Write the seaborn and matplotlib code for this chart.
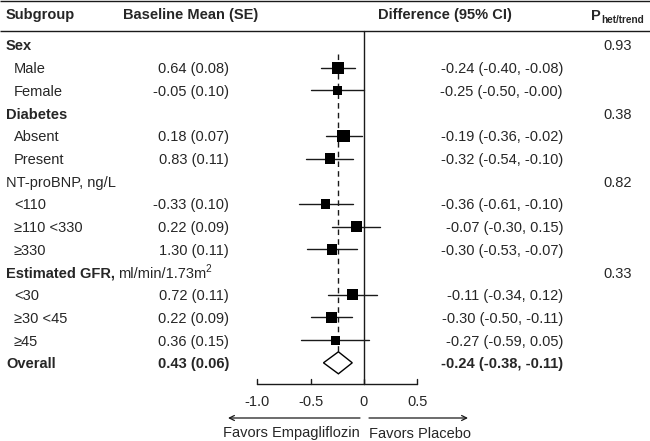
import numpy as np
import pandas as pd
import matplotlib
matplotlib.use("Agg")
import matplotlib.pyplot as plt
import seaborn as sns
from matplotlib.patches import Polygon

# ---------------- data ----------------
row_labels = ["Sex", "Male", "Female", "Diabetes", "Absent", "Present",
              "NT-proBNP, ng/L", "<110", "\u2265110 <330", "\u2265330",
              "Estimated GFR,", "<30", "\u226530 <45", "\u226545", "Overall"]
row_kind = ["group", "item", "item", "group", "item", "item",
            "plain", "item", "item", "item",
            "gfr", "item", "item", "item", "overall"]
baseline_mean = [None, 0.64, -0.05, None, 0.18, 0.83, None, -0.33, 0.22, 1.30,
                 None, 0.72, 0.22, 0.36, 0.43]
baseline_se = [None, 0.08, 0.10, None, 0.07, 0.11, None, 0.10, 0.09, 0.11,
               None, 0.11, 0.09, 0.15, 0.06]
diff = [None, -0.24, -0.25, None, -0.19, -0.32, None, -0.36, -0.07, -0.30,
        None, -0.11, -0.30, -0.27, -0.24]
ci_lo = [None, -0.40, -0.50, None, -0.36, -0.54, None, -0.61, -0.30, -0.53,
         None, -0.34, -0.50, -0.59, -0.38]
ci_hi = [None, -0.08, -0.00, None, -0.02, -0.10, None, -0.10, 0.15, -0.07,
         None, 0.12, -0.11, 0.05, -0.11]
p_het = ["0.93", None, None, "0.38", None, None, "0.82", None, None, None,
         "0.33", None, None, None, None]
# relative weight (square side) per subgroup
weight = [None, 12, 9.5, None, 12.5, 10.5, None, 9.5, 11, 10.5,
          None, 10.5, 11, 9, None]
tick_values = [-1.0, -0.5, 0.0, 0.5]
tick_labels = ["-1.0", "-0.5", "0", "0.5"]
favors_left = "Favors Empagliflozin"
favors_right = "Favors Placebo"

# ---------------- style ----------------
sns.set_theme(style="white")
plt.rcParams['font.family'] = ['Liberation Sans', 'DejaVu Sans']
FS = 10.5
W, H = 650, 441
fig = plt.figure(figsize=(W / 100, H / 100), dpi=100)
ax = fig.add_axes([0, 0, 1, 1])
ax.set_axis_off()

PPU = 160 / 1.5          # pixels per effect unit
ZERO_PX = 364
ax.set_xlim(-ZERO_PX / PPU, (W - ZERO_PX) / PPU)
ax.set_ylim(H, 0)


def px(p):
    return (p - ZERO_PX) / PPU


ROW0, STEP = 45.0, 22.7
ys = [ROW0 + i * STEP for i in range(len(row_labels))]
TXT_DY = 1.5
LC = "#1a1a1a"

# header
ax.plot([px(0), px(W)], [1, 1], color=LC, lw=1.0, solid_capstyle="butt")
ax.plot([px(0), px(W)], [31, 31], color=LC, lw=1.0, solid_capstyle="butt")
hy = 15.5
ax.text(px(6), hy, "Subgroup", fontsize=FS, fontweight="bold", va="center", ha="left")
ax.text(px(191), hy, "Baseline Mean (SE)", fontsize=FS, fontweight="bold", va="center", ha="center")
ax.text(px(445), hy, "Difference (95% CI)", fontsize=FS, fontweight="bold", va="center", ha="center")
ax.text(px(591), hy, "P", fontsize=FS, fontweight="bold", va="center", ha="left")
ax.text(px(601.5), hy + 4.5, "het/trend", fontsize=7.2, fontweight="bold", va="center", ha="left")

renderer = fig.canvas.get_renderer()

# rows text
for i, lab in enumerate(row_labels):
    y = ys[i] + TXT_DY
    kind = row_kind[i]
    if kind == "item":
        ax.text(px(14), y, lab, fontsize=FS, va="center", ha="left")
    elif kind == "plain":
        ax.text(px(6), y, lab, fontsize=FS, va="center", ha="left")
    elif kind in ("group", "overall"):
        ax.text(px(6), y, lab, fontsize=FS, fontweight="bold", va="center", ha="left")
    elif kind == "gfr":
        t = ax.text(px(6), y, lab, fontsize=FS, fontweight="bold", va="center", ha="left")
        bb = t.get_window_extent(renderer)
        t2 = ax.text(px(bb.x1 + 3.5), y, "ml/min/1.73m", fontsize=FS, va="center", ha="left")
        bb2 = t2.get_window_extent(renderer)
        ax.text(px(bb2.x1 - 1.0), y - 4.5, "2", fontsize=7.2, va="center", ha="left")
    wt = "bold" if kind == "overall" else "normal"
    if baseline_mean[i] is not None:
        ax.text(px(229), y, f"{baseline_mean[i]:.2f} ({baseline_se[i]:.2f})",
                fontsize=FS, fontweight=wt, va="center", ha="right")
    if diff[i] is not None:
        ax.text(px(563), y, f"{diff[i]:.2f} ({ci_lo[i]:.2f}, {ci_hi[i]:.2f})",
                fontsize=FS, fontweight=wt, va="center", ha="right")
    if p_het[i] is not None:
        ax.text(px(632), y, p_het[i], fontsize=FS, va="center", ha="right")

# reference lines
overall_idx = row_kind.index("overall")
est = diff[overall_idx]
d_half = 11
ax.plot([0, 0], [31, 384], color=LC, lw=1.0, zorder=1)
ax.plot([est, est], [ys[1] - 14, ys[overall_idx] - d_half], color=LC, lw=1.0,
        dashes=(4, 3), zorder=1)

# subgroup CIs and squares
keep = [i for i in range(len(diff)) if weight[i] is not None]
df = pd.DataFrame({
    "diff": [diff[i] for i in keep],
    "lo": [ci_lo[i] for i in keep],
    "hi": [ci_hi[i] for i in keep],
    "y": [ys[i] for i in keep],
    "w": [weight[i] for i in keep],
})
df["area"] = (df["w"] * 0.72) ** 2
for _, r in df.iterrows():
    ax.plot([r["lo"], r["hi"]], [r["y"], r["y"]], color=LC, lw=1.0, zorder=2)
sns.scatterplot(data=df, x="diff", y="y", size="area",
                sizes=(df["area"].min(), df["area"].max()),
                size_norm=(df["area"].min(), df["area"].max()),
                marker="s", color="black", edgecolor="black", linewidth=0,
                legend=False, ax=ax, zorder=3)
ax.set_xlim(-ZERO_PX / PPU, (W - ZERO_PX) / PPU)
ax.set_ylim(H, 0)
ax.set_axis_off()

# overall diamond
yo = ys[overall_idx]
diamond = Polygon([[ci_lo[overall_idx], yo], [est, yo - d_half],
                   [ci_hi[overall_idx], yo], [est, yo + d_half]],
                  closed=True, facecolor="white", edgecolor="black", lw=1.0, zorder=3)
ax.add_patch(diamond)

# x axis
AY = 384
ax.plot([tick_values[0], tick_values[-1]], [AY, AY], color=LC, lw=1.0)
for tv, tl in zip(tick_values, tick_labels):
    ax.plot([tv, tv], [AY, AY - 5], color=LC, lw=1.0)
    ax.text(tv, 402, tl, fontsize=FS, va="center", ha="center")

# favours arrows
arrow_kw = dict(arrowstyle="->", lw=0.9, color=LC, mutation_scale=9,
                shrinkA=0, shrinkB=0)
ax.annotate("", xy=(px(228), 418), xytext=(px(360), 418), arrowprops=arrow_kw)
ax.annotate("", xy=(px(468), 418), xytext=(px(369), 418), arrowprops=arrow_kw)
ax.text(px(360), 433.5, favors_left, fontsize=FS, va="center", ha="right")
ax.text(px(369), 433.5, favors_right, fontsize=FS, va="center", ha="left")

fig.savefig("out.png", dpi=100, facecolor="white")
